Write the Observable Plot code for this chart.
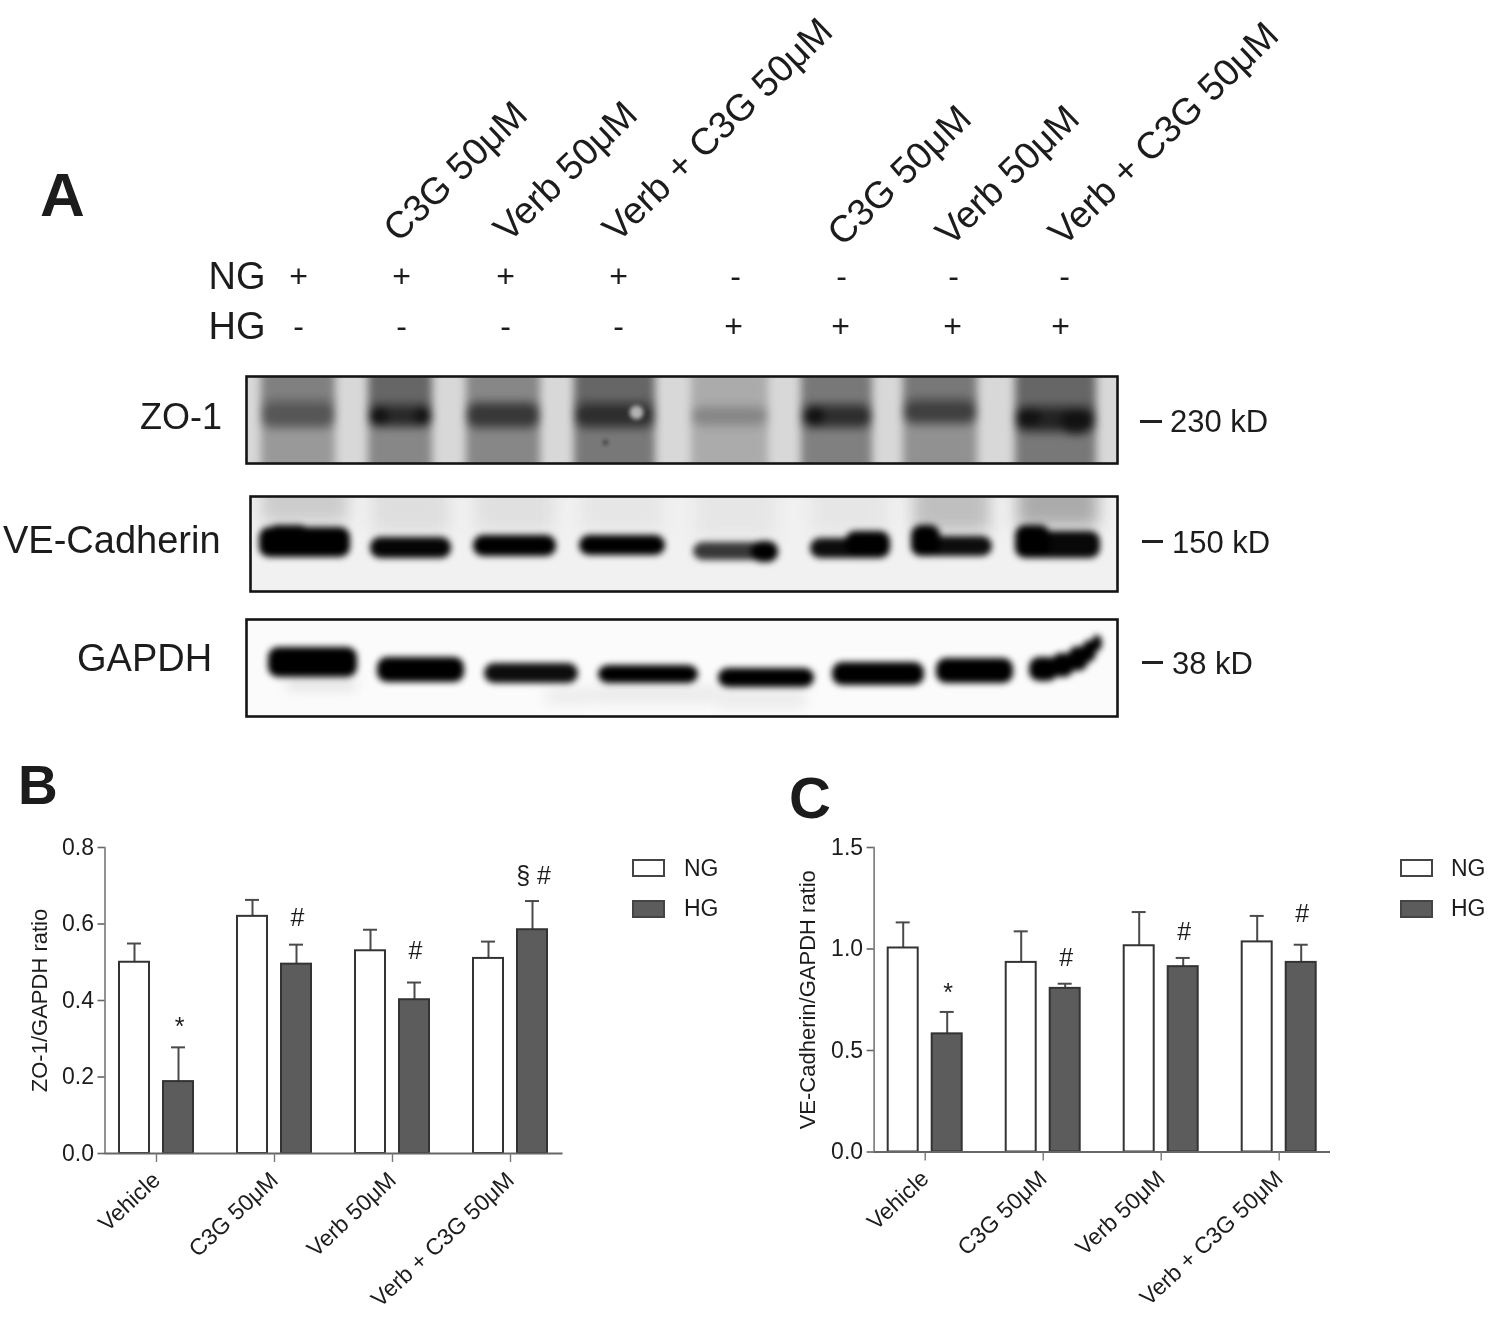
<!DOCTYPE html>
<html><head><meta charset="utf-8">
<script src="https://cdn.jsdelivr.net/npm/d3@7"></script>
<script src="https://cdn.jsdelivr.net/npm/@observablehq/plot@0.6"></script>
<style>
html,body{margin:0;padding:0;background:#fff}
#fig{position:relative;width:1492px;height:1317px;overflow:hidden;font-family:"Liberation Sans",Arial,sans-serif;color:#1c1c1c;filter:blur(.45px)}
#fig svg{position:absolute;background:transparent}
.t{position:absolute;white-space:nowrap;transform:translateY(-50%);line-height:1}
.sw{position:absolute;box-sizing:border-box;border:2px solid #444}
.dash{position:absolute;background:#222;height:3px}
</style></head><body><div id="fig"></div>
<script>
// ---------- bar chart values ----------
const groups = ["Vehicle", "C3G 50μM", "Verb 50μM", "Verb + C3G 50μM"];
const series = ["NG", "HG"];
const zoNG = [0.50, 0.62, 0.53, 0.51];
const zoHG = [0.188, 0.495, 0.402, 0.585];
const zoNGTop = [0.549, 0.663, 0.585, 0.554];
const zoHGTop = [0.2775, 0.546, 0.447, 0.66];
const zoMarks = ["*", "#", "#", "§ #"];
const zoMarkAt = [0.33, 0.615, 0.529, 0.725];
const veNG = [1.005, 0.934, 1.016, 1.035];
const veHG = [0.582, 0.806, 0.913, 0.934];
const veNGTop = [1.131, 1.087, 1.182, 1.163];
const veHGTop = [0.69, 0.829, 0.956, 1.021];
const veMarks = ["*", "#", "#", "#"];
const veMarkAt = [0.785, 0.958, 1.086, 1.17];
const zoTicks = [0, 0.2, 0.4, 0.6, 0.8];
const veTicks = [0, 0.5, 1.0, 1.5];

// ---------- blot header ----------
const laneNG = ["+", "+", "+", "+", "-", "-", "-", "-"];
const laneHG = ["-", "-", "-", "-", "+", "+", "+", "+"];
const laneCentreNG = [298, 401, 505, 618, 735, 841, 953, 1064];
const laneCentreHG = [298, 401, 505, 618, 733, 840, 952, 1060];
const treatLabels = ["C3G 50μM", "Verb 50μM", "Verb + C3G 50μM", "C3G 50μM", "Verb 50μM", "Verb + C3G 50μM"];
const treatAt = [398, 508, 617, 842, 950, 1063];

// ---------- blot densitometry (gel units, 0–1 darkness) ----------
const zoLeft = [15, 122, 220, 328, 445, 555, 657, 769];
const zoRight = [89, 186, 294, 409, 522, 626, 731, 850];
const zoUpper = [.5, .6, .47, .6, .33, .53, .53, .6];
const zoBand = [.66, .84, .78, .82, .47, .82, .75, .86];
const zoLower = [.4, .47, .47, .53, .33, .5, .43, .53];
const zoBandTop = [24, 28, 26, 26, 30, 28, 23, 30];
const zoBandBot = [52, 51, 52, 52, 50, 52, 48, 56];
const zoLobeLeft = [124, 169, 560, 769, 815];
const zoLobeRight = [142, 185, 578, 795, 845];
const zoLobeTop = [30, 30, 30, 32, 34];
const zoLobeBot = [50, 50, 50, 50, 58];
const zoSpotX = [390, 359], zoSpotY = [36, 66], zoSpotR = [7, 2], zoSpotDark = [.3, .95];

const veLeft = [9, 120, 223, 329, 443, 560, 661, 765];
const veRight = [100, 201, 306, 415, 528, 640, 742, 850];
const veTop = [31, 41, 39, 39, 46, 42, 40, 35];
const veBot = [61, 62, 60, 59, 64, 62, 60, 62];
const veDark = [1, .98, 1, 1, .78, .95, .95, .97];
const veSmear = [.2, .13, .12, .1, .1, .1, .25, .33];
const veExtraLeft = [17, 501, 595, 661, 765];
const veExtraRight = [60, 528, 640, 690, 800];
const veExtraTop = [29, 45, 35, 29, 29];
const veExtraBot = [50, 66, 60, 60, 60];

const gaLeft = [22, 131, 238, 352, 472, 586, 690, 783, 805, 822, 836, 846];
const gaRight = [111, 218, 332, 452, 568, 678, 767, 812, 828, 842, 850, 856];
const gaTop = [28, 38, 44, 46, 49, 43, 39, 38, 34, 27, 21, 16];
const gaBot = [58, 63, 64, 64, 68, 66, 64, 62, 58, 52, 43, 32];
const gaDark = [1, 1, .95, 1, 1, 1, 1, 1, 1, 1, 1, 1];
const gaSmearLeft = [40, 300, 350, 470];
const gaSmearRight = [110, 350, 470, 560];
const gaSmearTop = [58, 68, 66, 68];
const gaSmearBot = [72, 86, 84, 90];
const gaSmearDark = [.1, .07, .08, .07];

const fig = document.getElementById("fig");
const font = '"Liberation Sans", Arial, sans-serif';

function place(svg, left, top) { svg.style.left = left + "px"; svg.style.top = top + "px"; fig.appendChild(svg); }
function label(text, x, y, size, weight) {
  const d = document.createElement("div");
  d.className = "t"; d.textContent = text;
  d.style.cssText = `left:${x}px;top:${y}px;font-size:${size}px;font-weight:${weight || 400}`;
  fig.appendChild(d);
}
function dash(x, y, w) {
  const d = document.createElement("div");
  d.className = "dash"; d.style.cssText = `left:${x}px;top:${y}px;width:${w}px`;
  fig.appendChild(d);
}
function swatch(x, y, w, h, fill) {
  const d = document.createElement("div");
  d.className = "sw"; d.style.cssText = `left:${x}px;top:${y}px;width:${w}px;height:${h}px;background:${fill}`;
  fig.appendChild(d);
}

// ---------- bar panels ----------
const barColor = {domain: series, range: ["#ffffff", "#5c5c5c"]};
function barPanel({ng, hg, ngTop, hgTop, marks, markAt, ticks, yLabel, yMax, xDomain, left, mLeft, width, mBottom, labelOffset}) {
  const rows = [];
  groups.forEach((g, i) => {
    rows.push({i, side: -1, series: "NG", value: ng[i], top: ngTop[i]});
    rows.push({i, side: 1, series: "HG", value: hg[i], top: hgTop[i]});
  });
  const notes = marks.map((m, i) => ({i, m, y: markAt[i]}));
  const cx = d => d.i + d.side * 22 / 118;
  const svg = Plot.plot({
    width, height: 517, marginLeft: mLeft, marginRight: width - mLeft - (xDomain[1] - xDomain[0]) * 118,
    marginTop: 47, marginBottom: mBottom,
    style: {fontFamily: font, fontSize: "23px", color: "#1c1c1c", background: "transparent", overflow: "visible"},
    x: {type: "linear", domain: xDomain, label: null},
    y: {domain: [0, yMax], label: yLabel},
    color: barColor,
    marks: [
      Plot.ruleX(rows, {x: cx, y1: "value", y2: "top", stroke: "#4a4a4a", strokeWidth: 2}),
      Plot.ruleY(rows, {y: "top", x1: d => cx(d) - 7 / 118, x2: d => cx(d) + 7 / 118, stroke: "#4a4a4a", strokeWidth: 2}),
      Plot.rectY(rows, {x1: d => cx(d) - 15 / 118, x2: d => cx(d) + 15 / 118, y: "value", fill: "series", stroke: "#333", strokeWidth: 2}),
      Plot.frame({anchor: "left", stroke: "#777", strokeWidth: 1.6}),
      Plot.ruleY([0], {stroke: "#666", strokeWidth: 1.8}),
      Plot.axisY({ticks, tickFormat: ".1f", tickSize: 7, tickPadding: 4, stroke: "#666", strokeWidth: 1.6, fill: "#1c1c1c", fontSize: 23,
        label: null}),
      Plot.axisY({ticks: [], tickSize: 0, fill: "#1c1c1c", fontSize: 22, label: yLabel, labelAnchor: "center", labelOffset, labelArrow: "none"}),
      Plot.axisX({ticks: groups.map((g, i) => i), tickFormat: i => groups[i], tickSize: 9, tickPadding: 14, tickRotate: -43,
        stroke: "#777", strokeWidth: 1.4, fill: "#1c1c1c", fontSize: 23, label: null}),
      Plot.text(notes, {x: d => d.i + 23 / 118, y: "y", text: "m", fontSize: 25, fontWeight: 500, fill: "#1c1c1c"})
    ]
  });
  place(svg, left, 800);
}
barPanel({ng: zoNG, hg: zoHG, ngTop: zoNGTop, hgTop: zoHGTop, marks: zoMarks, markAt: zoMarkAt, ticks: zoTicks, labelOffset: 74,
  yLabel: "ZO-1/GAPDH ratio", yMax: 0.8, xDomain: [(104.5 - 156) / 118, (562.5 - 156) / 118], left: 0, mLeft: 104.5, width: 740, mBottom: 164});
barPanel({ng: veNG, hg: veHG, ngTop: veNGTop, hgTop: veHGTop, marks: veMarks, markAt: veMarkAt, ticks: veTicks, labelOffset: 75,
  yLabel: "VE-Cadherin/GAPDH ratio", yMax: 1.5, xDomain: [(873.6 - 924.7) / 118, (1330 - 924.7) / 118], left: 770, mLeft: 103.6, width: 722, mBottom: 165.5});

// ---------- blots: a soft haze layer, then the sharper bands, each blurred on its own ----------
function blot({w, h, soft, softHaze, bg, haze, bands, spots, left, top}) {
  const pad = 2;
  const box = {x1: "x1", x2: "x2", y1: "y1", y2: "y2", fill: "dark", clip: "frame"};
  const marks = [
    Plot.frame({fill: bg, stroke: "none"}),
    Plot.rect(haze, {...box, rx: 4}),
    Plot.rect(bands, {...box, rx: 10})
  ];
  if (spots) marks.push(Plot.dot(spots, {x: "x", y: "y", r: "r", fill: "dark", clip: "frame"}));
  marks.push(Plot.frame({stroke: "#141414", strokeWidth: 2.6}));
  const svg = Plot.plot({
    width: w + 2 * pad, height: h + 2 * pad, margin: pad,
    style: {background: "transparent"},
    x: {domain: [0, w], axis: null}, y: {domain: [0, h], reverse: true, axis: null},
    r: {type: "identity"},
    color: {type: "linear", domain: [0, 1], range: ["#ffffff", "#000000"]},
    marks
  });
  const rects = svg.querySelectorAll('g[aria-label="rect"]');
  rects[0].style.filter = `blur(${softHaze}px)`;
  rects[1].style.filter = `blur(${soft}px)`;
  svg.querySelectorAll('g[aria-label="dot"]').forEach(g => { g.style.filter = "blur(2px)"; });
  place(svg, left - pad, top - pad);
}
const zoHaze = [], zoBands = [];
zoLeft.forEach((l, i) => {
  zoHaze.push({x1: l, x2: zoRight[i], y1: -14, y2: zoBandTop[i] + 6, dark: zoUpper[i]});
  zoHaze.push({x1: l, x2: zoRight[i], y1: zoBandBot[i] - 6, y2: 101, dark: zoLower[i]});
  zoBands.push({x1: l, x2: zoRight[i], y1: zoBandTop[i], y2: zoBandBot[i], dark: zoBand[i]});
});
zoLobeLeft.forEach((l, i) => zoBands.push({x1: l, x2: zoLobeRight[i], y1: zoLobeTop[i], y2: zoLobeBot[i], dark: .93}));
blot({w: 871, h: 87, soft: 4.5, softHaze: 4, bg: "#d8d8d8", haze: zoHaze, bands: zoBands, left: 246, top: 376,
  spots: zoSpotX.map((x, i) => ({x, y: zoSpotY[i], r: zoSpotR[i], dark: zoSpotDark[i]}))});

const veHaze = [], veBands = [];
veLeft.forEach((l, i) => {
  veHaze.push({x1: l + 2, x2: veRight[i] - 2, y1: -20, y2: veTop[i] - 4, dark: veSmear[i]});
  veBands.push({x1: l, x2: veRight[i], y1: veTop[i], y2: veBot[i], dark: veDark[i]});
});
veExtraLeft.forEach((l, i) => veBands.push({x1: l, x2: veExtraRight[i], y1: veExtraTop[i], y2: veExtraBot[i], dark: 1}));
blot({w: 867, h: 95, soft: 3.2, softHaze: 8, bg: "#f1f1f1", haze: veHaze, bands: veBands, left: 250, top: 496});

const gaHaze = gaSmearLeft.map((l, i) => ({x1: l, x2: gaSmearRight[i], y1: gaSmearTop[i], y2: gaSmearBot[i], dark: gaSmearDark[i]}));
const gaBands = gaLeft.map((l, i) => ({x1: l, x2: gaRight[i], y1: gaTop[i], y2: gaBot[i], dark: gaDark[i]}));
blot({w: 871, h: 97, soft: 3, softHaze: 6, bg: "#fbfbfb", haze: gaHaze, bands: gaBands, left: 246, top: 619});

// ---------- lane header ----------
const signRows = [
  ...laneNG.map((s, i) => ({x: laneCentreNG[i], row: "NG", s})),
  ...laneHG.map((s, i) => ({x: laneCentreHG[i], row: "HG", s}))
];
const treat = treatLabels.map((t, i) => ({t, x: treatAt[i], row: "NG", i}));
place(Plot.plot({
  width: 1492, height: 360, margin: 0,
  style: {fontFamily: font, background: "transparent", overflow: "visible"},
  x: {domain: [0, 1492], axis: null},
  y: {type: "point", domain: series, range: [276, 326], padding: 0, axis: null},
  marks: [
    Plot.text(signRows, {x: "x", y: "row", text: "s", fontSize: 32, fontWeight: 500, fill: "#1c1c1c"}),
    Plot.text(series, {x: () => 208, y: d => d, text: d => d, textAnchor: "start", fontSize: 38, fill: "#1c1c1c"}),
    Plot.text(treat, {filter: d => d.i < 3, x: "x", y: "row", text: "t", dy: -33, rotate: -44, textAnchor: "start", lineAnchor: "bottom", fontSize: 37.5, fill: "#1c1c1c"}),
    Plot.text(treat, {filter: d => d.i >= 3, x: "x", y: "row", text: "t", dy: -29, rotate: -44, textAnchor: "start", lineAnchor: "bottom", fontSize: 37.5, fill: "#1c1c1c"})
  ]
}), 0, 0);

// ---------- text around the panels ----------
label("A", 40, 195, 62, 700);
label("B", 18, 785, 55, 700);
label("C", 789, 798, 58, 700);
label("ZO-1", 140, 417, 36);
label("VE-Cadherin", 3, 540, 38);
label("GAPDH", 77, 658, 38);
dash(1140, 420, 22); label("230 kD", 1170, 421, 31);
dash(1142, 540, 21); label("150 kD", 1172, 542, 31);
dash(1142, 661, 21); label("38 kD", 1172, 663, 31);

// ---------- legends ----------
[[632, 684], [1400, 1451]].forEach(([bx, tx]) => {
  swatch(bx, 859, 33, 18, "#fff"); label("NG", tx, 868, 23);
  swatch(bx, 900, 33, 18, "#5c5c5c"); label("HG", tx, 908, 23);
});
</script></body></html>
